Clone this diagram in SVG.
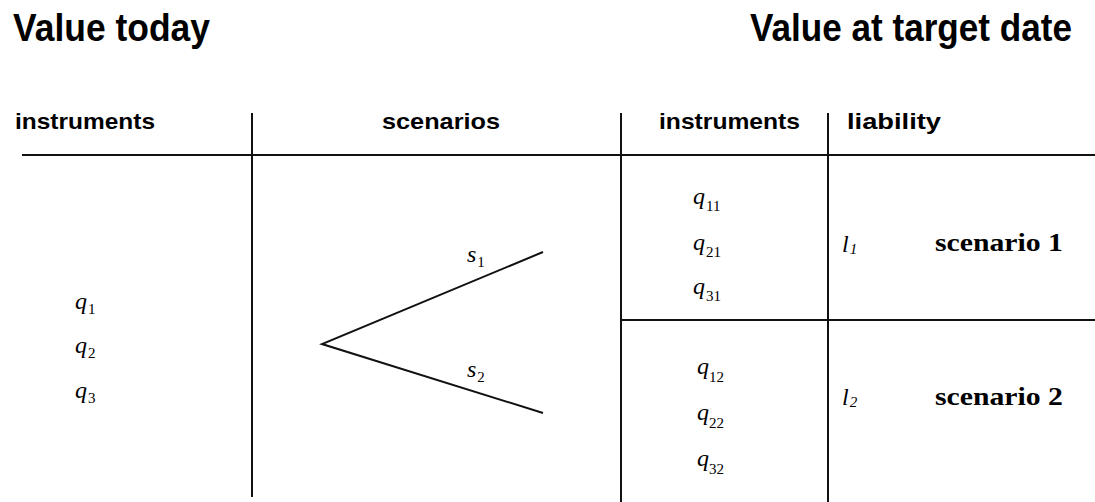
<svg xmlns="http://www.w3.org/2000/svg" width="1095" height="502" viewBox="0 0 1095 502">
<style>
.title{font-family:"Liberation Sans",Arial,sans-serif;font-weight:bold;font-size:38px;fill:#000}
.hdr{font-family:"Liberation Sans",Arial,sans-serif;font-weight:bold;font-size:22px;fill:#000}
.math{font-family:"Liberation Serif","Times New Roman",serif;font-style:italic;font-size:24px;fill:#000}
.sub{font-family:"Liberation Serif","Times New Roman",serif;font-style:normal;font-size:15px}
.scen{font-family:"Liberation Serif","Times New Roman",serif;font-weight:bold;font-size:25px;fill:#000}
.ln{stroke:#111;stroke-width:2;fill:none}
</style>
<rect width="1095" height="502" fill="#fff"/>
<g id="titles">
<text class="title" x="13" y="41" textLength="197" lengthAdjust="spacingAndGlyphs">Value today</text>
<text class="title" x="750" y="41" textLength="322" lengthAdjust="spacingAndGlyphs">Value at target date</text>
</g>
<g id="headers">
<text class="hdr" x="15" y="129" textLength="140" lengthAdjust="spacingAndGlyphs">instruments</text>
<text class="hdr" x="382" y="129" textLength="118" lengthAdjust="spacingAndGlyphs">scenarios</text>
<text class="hdr" x="659" y="129" textLength="141" lengthAdjust="spacingAndGlyphs">instruments</text>
<text class="hdr" x="847" y="129" textLength="94" lengthAdjust="spacingAndGlyphs">liability</text>
</g>
<g id="grid">
<line class="ln" x1="22" y1="155" x2="1095" y2="155"/>
<line class="ln" x1="252" y1="113" x2="252" y2="497"/>
<line class="ln" x1="621" y1="113" x2="621" y2="502"/>
<line class="ln" x1="828" y1="113" x2="828" y2="502"/>
<line class="ln" x1="621" y1="320" x2="1095" y2="320"/>
</g>
<g id="today-instruments">
<text class="math" x="75" y="309">q<tspan class="sub" dx="1" dy="5">1</tspan></text>
<text class="math" x="75" y="353">q<tspan class="sub" dx="1" dy="5">2</tspan></text>
<text class="math" x="75" y="398">q<tspan class="sub" dx="1" dy="5">3</tspan></text>
</g>
<g id="connectors">
<polyline class="ln" points="543,252 322,344 543,413"/>
</g>
<g id="scenario-labels">
<text class="math" x="467" y="262">s<tspan class="sub" dx="1" dy="5">1</tspan></text>
<text class="math" x="467" y="377">s<tspan class="sub" dx="1" dy="5">2</tspan></text>
</g>
<g id="scenario1-instruments">
<text class="math" x="693" y="204">q<tspan class="sub" dx="1" dy="7">11</tspan></text>
<text class="math" x="693" y="250">q<tspan class="sub" dx="1" dy="7">21</tspan></text>
<text class="math" x="693" y="294">q<tspan class="sub" dx="1" dy="7">31</tspan></text>
</g>
<g id="scenario2-instruments">
<text class="math" x="697" y="374">q<tspan class="sub" dx="0" dy="8">12</tspan></text>
<text class="math" x="697" y="420">q<tspan class="sub" dx="0" dy="8">22</tspan></text>
<text class="math" x="697" y="466">q<tspan class="sub" dx="0" dy="8">32</tspan></text>
</g>
<g id="scenario1-liability">
<text class="math" x="842" y="252">l<tspan class="sub" style="font-style:italic" dx="1" dy="2">1</tspan></text>
<text class="scen" x="935" y="251" textLength="128" lengthAdjust="spacingAndGlyphs">scenario 1</text>
</g>
<g id="scenario2-liability">
<text class="math" x="842" y="405">l<tspan class="sub" style="font-style:italic" dx="1" dy="2">2</tspan></text>
<text class="scen" x="935" y="405" textLength="128" lengthAdjust="spacingAndGlyphs">scenario 2</text>
</g>
</svg>
